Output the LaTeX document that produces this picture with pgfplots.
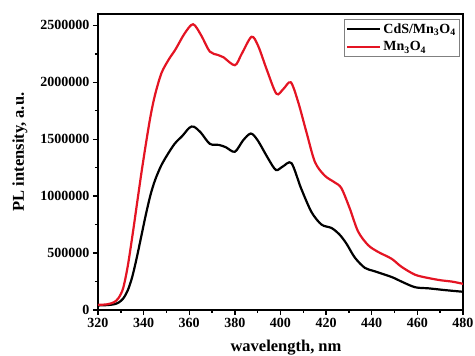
\documentclass[border=0pt]{standalone}
\usepackage{pgfplots}
\pgfplotsset{compat=1.18}
\usepackage{fontspec}
\setmainfont{Liberation Serif}
\definecolor{myred}{RGB}{228,20,35}
\begin{document}
\begin{tikzpicture}[x=1pt,y=1pt]
\useasboundingbox (-98,-46) rectangle (377,310);
\begin{axis}[at={(0,0)}, anchor=south west, scale only axis,
  width=365pt, height=296pt,
  xmin=320, xmax=480, ymin=0, ymax=2600000,
  xtick={320,340,...,480}, ytick={0,500000,...,2500000},
  minor x tick num=1, minor y tick num=1,
  scaled y ticks=false,
  yticklabel style={/pgf/number format/fixed,/pgf/number format/1000 sep={}},
  /pgf/number format/assume math mode=true,
  tick align=outside, tick pos=left,
  major tick length=5pt, minor tick length=3pt,
  every tick/.style={line width=1.4pt, black},
  axis line style={line width=1.6pt},
  tick label style={font=\bfseries\fontsize{14}{14}\selectfont},
  xlabel={wavelength, nm}, ylabel={PL intensity, a.u.},
  label style={font=\bfseries\fontsize{16.5}{16.5}\selectfont},
  xlabel style={at={(axis description cs:0.515,-0.128)}, anchor=center},
  ylabel style={at={(axis description cs:-0.214,0.534)}, anchor=center},
  legend style={at={(0.992,0.983)}, anchor=north east, draw=gray, line width=0.8pt,
    font=\bfseries\fontsize{14}{14}\selectfont, inner sep=2pt, row sep=3pt},
  legend cell align=left,
  legend image code/.code={\draw[#1, line width=2.2pt] (0pt,0pt) -- (33pt,0pt);},
]
\addplot[black, line width=2.2pt, smooth] coordinates {
(320,40000) (324,43000) (327,50000) (329,65000) (331,100000) (333,170000) (335,290000)
(337,460000) (339,650000) (341,840000) (343,1010000) (345,1140000) (347.5,1260000) (350,1350000)
(353.6,1460000) (357,1530000) (360,1600000) (362,1610000) (365,1560000) (369,1460000) (373,1450000) (376,1430000)
(380,1390000) (383.6,1490000) (387,1550000) (390,1490000) (394.6,1330000) (398,1230000)
(401,1260000) (404.8,1290000) (409,1070000) (413.6,860000) (418,750000) (422.4,720000)
(426,660000) (429,580000) (432.6,460000) (437,370000) (441.3,340000) (448.7,290000)
(453,250000) (459,200000) (465,190000) (472,175000) (480,160000)
};
\addlegendentry{CdS/Mn\textsubscript{3}O\textsubscript{4}}
\addplot[myred, line width=2.2pt, smooth] coordinates {
(320,45000) (324,50000) (327,68000) (329,105000) (331,190000) (333,380000)
(335,640000) (337,920000) (339,1200000) (341,1460000) (343,1700000) (345,1890000)
(347.8,2080000) (351,2200000) (354,2290000) (358,2430000) (361.7,2510000) (365.3,2410000) (369,2270000)
(372.6,2240000) (375,2220000) (380,2150000) (383,2250000) (387.3,2400000)
(390.2,2320000) (394,2110000) (398.2,1900000) (401.2,1940000) (404.5,2000000)
(407.7,1830000) (411.4,1560000) (415.1,1300000) (419.4,1180000) (423.8,1120000)
(426.7,1070000) (430.4,890000) (434,690000) (438.4,570000) (442.8,510000)
(448.7,450000) (453,380000) (459,310000) (465,280000) (470.6,260000)
(475,250000) (480,230000)
};
\addlegendentry{Mn\textsubscript{3}O\textsubscript{4}}
\end{axis}
\end{tikzpicture}
\end{document}
